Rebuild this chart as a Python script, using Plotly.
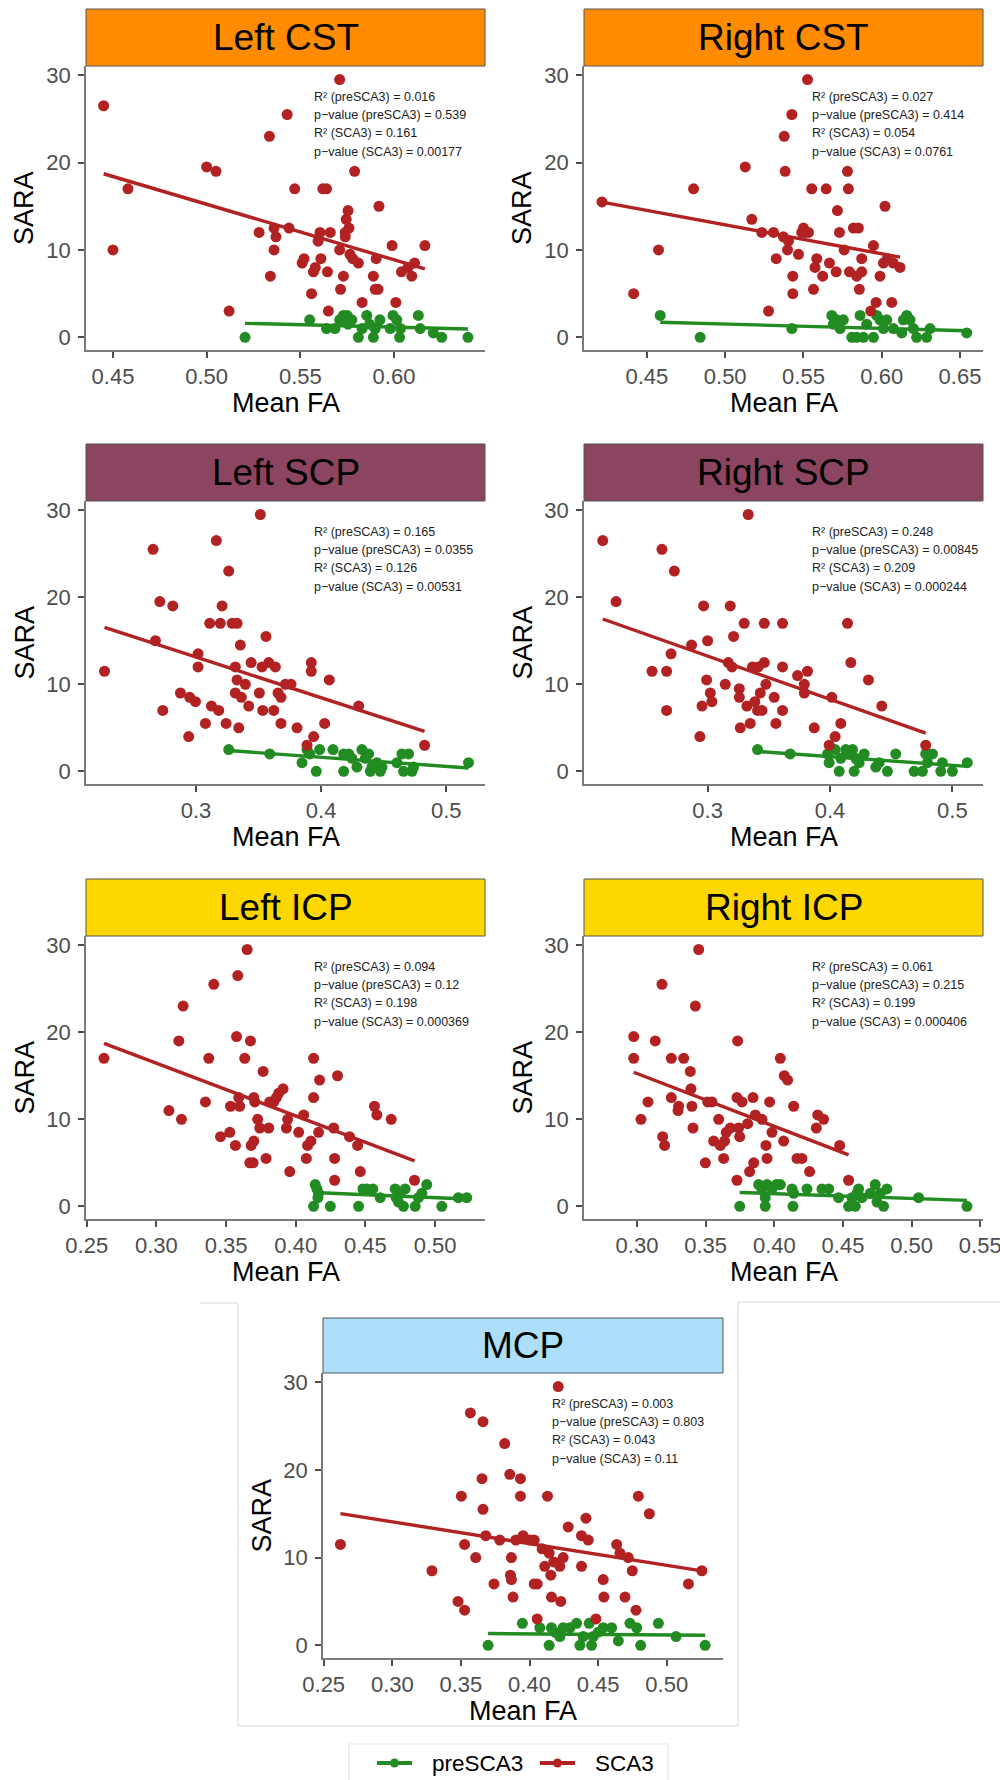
import plotly.graph_objects as go

W, H = 1000, 1780

# ---------------- data ----------------
panel_names = ["Left CST", "Right CST", "Left SCP", "Right SCP", "Left ICP", "Right ICP", "MCP"]
strip_colors = ["#FF8C00", "#FF8C00", "#8B4560", "#8B4560", "#FFD700", "#FFD700", "#ADDFFA"]

# Left CST
lcst_sca3_x = [0.445, 0.450, 0.458, 0.500, 0.505, 0.512, 0.528, 0.5335, 0.534, 0.536, 0.537, 0.536, 0.543, 0.544,
               0.547, 0.551, 0.552, 0.557, 0.556, 0.558, 0.5595, 0.5605, 0.561, 0.562, 0.564, 0.5645, 0.565, 0.566,
               0.571, 0.571, 0.5715, 0.573, 0.574, 0.574, 0.5745, 0.5755, 0.576, 0.5765, 0.578, 0.579, 0.581, 0.583,
               0.589, 0.590, 0.5905, 0.5915, 0.592, 0.599, 0.601, 0.604, 0.6075, 0.6095, 0.611, 0.6165]
lcst_sca3_y = [26.5, 10.0, 17.0, 19.5, 19.0, 3.0, 12.0, 23.0, 7.0, 12.5, 11.5, 10.0, 25.5, 12.5,
               17.0, 8.5, 9.0, 7.5, 5.0, 8.0, 11.0, 12.0, 9.0, 17.0, 17.0, 7.5, 3.0, 12.0,
               29.5, 10.0, 5.5, 7.0, 12.0, 11.5, 13.5, 14.5, 12.5, 9.5, 9.0, 19.0, 8.5, 4.0,
               7.0, 5.5, 9.0, 5.5, 15.0, 10.5, 4.0, 7.5, 8.0, 7.0, 8.5, 10.5]
lcst_pre_x = [0.5205, 0.555, 0.564, 0.5685, 0.571, 0.573, 0.575, 0.5755, 0.5775, 0.581, 0.583, 0.5855, 0.587,
              0.589, 0.590, 0.5925, 0.598, 0.5995, 0.6015, 0.603, 0.6035, 0.613, 0.614, 0.621, 0.6255, 0.6395]
lcst_pre_y = [0.0, 2.0, 1.0, 1.0, 2.0, 2.5, 2.5, 1.5, 2.0, 0.0, 1.0, 2.5, 1.5,
              0.0, 1.0, 2.0, 1.0, 2.5, 2.0, 0.0, 1.0, 2.5, 1.0, 0.5, 0.0, 0.0]

# Right CST
rcst_sca3_x = [0.4213, 0.4415, 0.4574, 0.4798, 0.5128, 0.517, 0.5234, 0.5277, 0.5309, 0.5326, 0.5377, 0.5383,
               0.5372, 0.5398, 0.5404, 0.5426, 0.5432, 0.5432, 0.5468, 0.5489, 0.55, 0.551, 0.5526, 0.5532,
               0.5553, 0.5564, 0.5574, 0.5585, 0.5623, 0.5645, 0.5666, 0.5709, 0.5717, 0.573, 0.576, 0.5781,
               0.5787, 0.5794, 0.5819, 0.584, 0.5851, 0.5857, 0.5872, 0.5872, 0.593, 0.5947, 0.5964, 0.5989,
               0.6011, 0.6021, 0.6036, 0.6064, 0.6074, 0.6117]
rcst_sca3_y = [15.5, 5.0, 10.0, 17.0, 19.5, 13.5, 12.0, 3.0, 12.0, 9.0, 23.0, 19.0,
               11.5, 10.0, 11.0, 25.5, 7.0, 5.0, 9.5, 12.0, 12.5, 12.0, 29.5, 12.0,
               17.0, 5.5, 8.0, 9.0, 7.0, 17.0, 8.5, 7.5, 14.5, 12.0, 10.0, 19.0,
               17.0, 7.5, 12.5, 7.0, 12.5, 5.5, 7.5, 9.0, 3.0, 10.5, 4.0, 7.0,
               8.5, 15.0, 9.0, 4.0, 8.5, 8.0]
rcst_pre_x = [0.4585, 0.484, 0.5426, 0.5681, 0.5691, 0.5713, 0.5734, 0.5755, 0.5809, 0.584, 0.5862, 0.5883,
              0.5904, 0.5947, 0.5968, 0.5989, 0.6011, 0.6032, 0.6074, 0.6128, 0.6138, 0.616, 0.6181, 0.6202,
              0.6223, 0.6287, 0.6309, 0.6543]
rcst_pre_y = [2.5, 0.0, 1.0, 2.5, 1.5, 2.0, 1.0, 2.0, 0.0, 0.0, 2.5, 0.0,
              1.5, 0.0, 2.5, 2.0, 1.0, 2.0, 1.0, 0.5, 2.0, 2.5, 2.0, 1.0,
              0.0, 0.0, 1.0, 0.5]

# Left SCP
lscp_sca3_x = [0.2268, 0.2656, 0.2675, 0.271, 0.2734, 0.2814, 0.2875, 0.2941, 0.2949, 0.2995, 0.3016, 0.3016,
               0.3075, 0.3109, 0.3123, 0.3162, 0.3181, 0.3194, 0.3208, 0.324, 0.3261, 0.3288, 0.3314, 0.3328,
               0.3314, 0.3328, 0.3341, 0.3354, 0.3362, 0.3394, 0.3421, 0.344, 0.3514, 0.3506, 0.3527, 0.3533,
               0.3559, 0.3581, 0.3621, 0.3634, 0.3655, 0.3679, 0.3679, 0.3714, 0.3759, 0.3807, 0.3887, 0.3921,
               0.3921, 0.394, 0.4028, 0.4065, 0.43, 0.4827]
lscp_sca3_y = [11.5, 25.5, 15.0, 19.5, 7.0, 19.0, 9.0, 4.0, 8.5, 8.0, 13.5, 12.0,
               5.5, 17.0, 7.5, 26.5, 7.0, 17.0, 19.0, 5.5, 23.0, 17.0, 12.0, 17.0,
               9.0, 10.5, 5.0, 14.5, 8.5, 10.0, 7.5, 12.5, 29.5, 9.0, 12.0, 7.0,
               15.5, 12.5, 7.0, 12.0, 9.0, 5.5, 8.5, 10.0, 10.0, 5.0, 3.0, 12.5,
               11.5, 4.0, 5.5, 10.5, 7.5, 3.0]
lscp_pre_x = [0.3261, 0.3589, 0.3847, 0.3887, 0.3908, 0.3961, 0.3988, 0.4095, 0.418, 0.418, 0.422, 0.4246,
              0.4286, 0.4326, 0.4353, 0.4379, 0.4393, 0.4406, 0.4446, 0.4473, 0.4486, 0.4606, 0.4646, 0.4659,
              0.4699, 0.4726, 0.4739, 0.5178]
lscp_pre_y = [2.5, 2.0, 1.0, 2.5, 2.0, 0.0, 2.5, 2.5, 0.0, 2.0, 2.0, 1.5,
              0.5, 2.5, 1.5, 2.0, 0.0, 0.5, 1.0, 0.0, 0.5, 1.0, 2.0, 0.0,
              2.0, 0.0, 0.5, 1.0]

# Right SCP
rscp_sca3_x = [0.2143, 0.2252, 0.2546, 0.2627, 0.2665, 0.2665, 0.2701, 0.2728, 0.2869, 0.2937, 0.2954, 0.2967,
               0.2992, 0.3, 0.3022, 0.3035, 0.3144, 0.3169, 0.3185, 0.3199, 0.3212, 0.3259, 0.3259, 0.3267,
               0.3299, 0.3321, 0.3332, 0.3348, 0.3367, 0.3386, 0.3408, 0.3414, 0.343, 0.3444, 0.3463, 0.3463,
               0.3476, 0.3544, 0.3558, 0.3612, 0.3612, 0.3612, 0.3735, 0.379, 0.379, 0.3816, 0.3871, 0.3993,
               0.4015, 0.4042, 0.4088, 0.4143, 0.417, 0.4314, 0.4423, 0.4782]
rscp_sca3_y = [26.5, 19.5, 11.5, 25.5, 11.5, 7.0, 13.5, 23.0, 14.5, 4.0, 7.5, 19.0,
               10.5, 15.0, 9.0, 8.0, 10.0, 12.5, 19.0, 12.0, 15.5, 9.5, 8.5, 5.0,
               17.0, 7.5, 29.5, 5.5, 12.0, 8.0, 7.0, 12.0, 9.0, 7.0, 17.0, 12.5,
               10.0, 8.5, 5.5, 17.0, 12.0, 7.0, 11.0, 10.0, 9.0, 11.5, 5.0, 3.0,
               8.5, 4.0, 5.5, 17.0, 12.5, 10.5, 7.5, 3.0]
rscp_pre_x = [0.3408, 0.3675, 0.398, 0.3993, 0.4042, 0.4075, 0.4088, 0.4129, 0.4156, 0.4184, 0.4197, 0.421,
              0.4238, 0.4279, 0.4374, 0.4401, 0.4469, 0.4537, 0.4687, 0.4755, 0.4782, 0.4796, 0.4837, 0.4905,
              0.4918, 0.5, 0.5122]
rscp_pre_y = [2.5, 2.0, 2.0, 1.0, 2.5, 0.0, 1.5, 2.5, 2.0, 2.5, 0.0, 1.5,
              1.0, 2.0, 0.5, 1.0, 0.0, 2.0, 0.0, 0.0, 2.0, 1.0, 2.0, 0.0,
              1.0, 0.0, 1.0]

# Left ICP
licp_sca3_x = [0.2624, 0.309, 0.318, 0.3161, 0.3192, 0.3352, 0.3376, 0.3412, 0.346, 0.3527, 0.3532, 0.3567,
               0.3575, 0.3584, 0.3591, 0.3598, 0.3634, 0.3651, 0.367, 0.3675, 0.368, 0.3694, 0.3699, 0.3699,
               0.3706, 0.3727, 0.3742, 0.3766, 0.3787, 0.3806, 0.3813, 0.3842, 0.3861, 0.3878, 0.3909, 0.3933,
               0.3942, 0.3957, 0.4021, 0.4057, 0.4076, 0.4085, 0.4109, 0.4128, 0.4128, 0.4164, 0.4171, 0.4272,
               0.4279, 0.4279, 0.43, 0.4386, 0.4444, 0.4463, 0.4565, 0.4582, 0.4685, 0.4852]
licp_sca3_y = [17.0, 11.0, 10.0, 19.0, 23.0, 12.0, 17.0, 25.5, 8.0, 8.5, 11.5, 7.0,
               19.5, 26.5, 12.5, 11.5, 17.0, 29.5, 5.0, 19.0, 7.0, 5.0, 7.5, 12.5,
               12.0, 10.0, 9.0, 15.5, 5.5, 9.0, 12.0, 12.0, 12.5, 13.0, 13.5, 9.0,
               10.0, 4.0, 8.5, 10.5, 5.5, 7.0, 7.5, 17.0, 12.5, 8.5, 14.5, 9.0,
               5.5, 3.0, 15.0, 8.0, 7.0, 4.0, 11.5, 10.5, 10.0, 3.0]
licp_pre_x = [0.4128, 0.414, 0.4152, 0.4159, 0.4164, 0.4248, 0.4451, 0.4482, 0.451, 0.4553, 0.4606, 0.4713,
              0.4721, 0.4737, 0.4749, 0.4773, 0.4785, 0.4857, 0.4881, 0.4905, 0.494, 0.5048, 0.5167, 0.5227]
licp_pre_y = [0.0, 2.5, 2.0, 1.0, 1.5, 0.0, 0.0, 2.0, 2.0, 2.0, 1.0, 2.0,
              1.0, 0.5, 1.5, 0.0, 2.0, 0.0, 1.0, 1.5, 2.5, 0.0, 1.0, 1.0]

# Right ICP
ricp_sca3_x = [0.2976, 0.2976, 0.3029, 0.308, 0.3133, 0.3187, 0.3201, 0.3182, 0.325, 0.325, 0.3303, 0.3299,
               0.334, 0.3388, 0.3393, 0.34, 0.3408, 0.3425, 0.3449, 0.3498, 0.3515, 0.3546, 0.3558, 0.3595,
               0.3607, 0.3631, 0.3638, 0.365, 0.368, 0.3728, 0.3728, 0.3733, 0.374, 0.3748, 0.3765, 0.3806,
               0.382, 0.3845, 0.385, 0.3862, 0.391, 0.3939, 0.3947, 0.3966, 0.3983, 0.4044, 0.4068, 0.4073,
               0.4097, 0.4141, 0.4165, 0.4201, 0.4257, 0.4306, 0.4316, 0.4359, 0.4476, 0.4541]
ricp_sca3_y = [19.5, 17.0, 10.0, 12.0, 19.0, 8.0, 7.0, 25.5, 17.0, 12.5, 11.5, 11.0,
               17.0, 15.5, 13.5, 11.5, 9.0, 23.0, 29.5, 5.0, 12.0, 12.0, 7.5, 10.0,
               7.0, 5.5, 7.5, 8.5, 9.0, 3.0, 12.5, 19.0, 9.0, 8.0, 12.0, 9.5,
               4.0, 12.5, 5.0, 10.5, 10.0, 7.0, 5.5, 12.0, 8.5, 17.0, 7.5, 15.0,
               14.5, 11.5, 5.5, 5.5, 4.0, 9.0, 10.5, 10.0, 7.0, 3.0]
ricp_pre_x = [0.3748, 0.3886, 0.391, 0.3934, 0.3934, 0.3947, 0.3983, 0.4015, 0.4044, 0.4129, 0.4136, 0.4141,
              0.4238, 0.4347, 0.4396, 0.4468, 0.4541, 0.4566, 0.459, 0.4602, 0.4614, 0.4638, 0.4699, 0.4735,
              0.4748, 0.4772, 0.4796, 0.482, 0.5051, 0.5403]
ricp_pre_y = [0.0, 2.5, 2.0, 0.0, 1.0, 2.5, 2.0, 2.5, 2.5, 2.0, 0.0, 1.5,
              2.0, 2.0, 2.0, 1.0, 0.0, 1.0, 0.0, 1.5, 2.0, 1.0, 1.5, 2.5,
              0.5, 1.5, 0.0, 2.0, 1.0, 0.0]

# MCP
mcp_sca3_x = [0.2622, 0.3289, 0.3479, 0.3503, 0.3527, 0.3527, 0.3569, 0.3608, 0.3654, 0.3661, 0.3661, 0.3681,
              0.3741, 0.3783, 0.3819, 0.3856, 0.3868, 0.3861, 0.3868, 0.388, 0.39, 0.3934, 0.3934, 0.3953,
              0.4002, 0.4034, 0.4034, 0.4056, 0.4056, 0.4092, 0.4111, 0.4131, 0.4143, 0.4155, 0.416, 0.4177,
              0.4209, 0.4221, 0.4228, 0.4245, 0.4282, 0.4379, 0.4379, 0.4411, 0.4428, 0.4484, 0.4537, 0.4542,
              0.4635, 0.4659, 0.4696, 0.472, 0.4749, 0.4776, 0.4793, 0.4873, 0.5158, 0.5256]
mcp_sca3_y = [11.5, 8.5, 5.0, 17.0, 4.0, 11.5, 26.5, 10.0, 19.0, 15.5, 25.5, 12.5,
              7.0, 12.0, 23.0, 19.5, 10.0, 8.0, 7.5, 5.5, 12.0, 19.0, 17.0, 12.5,
              12.0, 12.0, 7.0, 7.0, 3.0, 11.0, 9.0, 17.0, 10.5, 8.0, 5.5, 9.5,
              29.5, 9.0, 5.0, 10.0, 13.5, 9.0, 12.5, 14.5, 12.0, 3.0, 7.5, 5.5,
              11.5, 10.5, 5.5, 10.0, 8.5, 4.0, 17.0, 15.0, 7.0, 8.5]
mcp_pre_x = [0.3698, 0.3948, 0.4075, 0.4143, 0.416, 0.4185, 0.4221, 0.4245, 0.4294, 0.4343, 0.4367, 0.4391,
             0.4435, 0.4452, 0.4464, 0.4501, 0.4537, 0.4598, 0.4647, 0.4732, 0.4781, 0.481, 0.4939, 0.5068, 0.528]
mcp_pre_y = [0.0, 2.5, 2.0, 0.0, 2.0, 1.5, 1.0, 2.0, 2.0, 2.5, 0.0, 1.0,
             2.5, 0.0, 1.0, 1.5, 2.0, 2.0, 0.5, 2.5, 2.0, 0.0, 2.5, 1.0, 0.0]

# fitted regression lines (end points): [x0, x1], [y0, y1]
fit_sca3_x = [[0.445, 0.6165], [0.4213, 0.6117], [0.2268, 0.4827], [0.2143, 0.4782],
              [0.2624, 0.4852], [0.2976, 0.4541], [0.2622, 0.5256]]
fit_sca3_y = [[18.72, 7.83], [15.48, 9.17], [16.55, 4.59], [17.5, 4.39],
              [18.72, 5.23], [15.4, 5.92], [15.02, 8.48]]
fit_pre_x = [[0.5205, 0.6395], [0.4585, 0.6543], [0.3261, 0.5178], [0.3408, 0.5122],
             [0.4128, 0.5227], [0.3748, 0.5403], [0.3698, 0.528]]
fit_pre_y = [[1.6, 0.96], [1.72, 0.76], [2.4, 0.38], [2.29, 0.57],
             [1.6, 0.84], [1.6, 0.69], [1.34, 1.15]]

r2_pre = ["0.016", "0.027", "0.165", "0.248", "0.094", "0.061", "0.003"]
p_pre = ["0.539", "0.414", "0.0355", "0.00845", "0.12", "0.215", "0.803"]
r2_sca3 = ["0.161", "0.054", "0.126", "0.209", "0.198", "0.199", "0.043"]
p_sca3 = ["0.00177", "0.0761", "0.00531", "0.000244", "0.000369", "0.000406", "0.11"]

x_ranges = [[0.4356, 0.6486], [0.4098, 0.6647], [0.212, 0.531], [0.199, 0.525],
            [0.2495, 0.5358], [0.2614, 0.552], [0.2495, 0.541]]
x_ticks = [[0.45, 0.50, 0.55, 0.60], [0.45, 0.50, 0.55, 0.60, 0.65], [0.3, 0.4, 0.5], [0.3, 0.4, 0.5],
           [0.25, 0.30, 0.35, 0.40, 0.45, 0.50], [0.30, 0.35, 0.40, 0.45, 0.50, 0.55],
           [0.25, 0.30, 0.35, 0.40, 0.45, 0.50]]
x_formats = [".2f", ".2f", ".1f", ".1f", ".2f", ".2f", ".2f"]
y_ticks = [0, 10, 20, 30]
groups = ["preSCA3", "SCA3"]

sca3_x = [lcst_sca3_x, rcst_sca3_x, lscp_sca3_x, rscp_sca3_x, licp_sca3_x, ricp_sca3_x, mcp_sca3_x]
sca3_y = [lcst_sca3_y, rcst_sca3_y, lscp_sca3_y, rscp_sca3_y, licp_sca3_y, ricp_sca3_y, mcp_sca3_y]
pre_x = [lcst_pre_x, rcst_pre_x, lscp_pre_x, rscp_pre_x, licp_pre_x, ricp_pre_x, mcp_pre_x]
pre_y = [lcst_pre_y, rcst_pre_y, lscp_pre_y, rscp_pre_y, licp_pre_y, ricp_pre_y, mcp_pre_y]
for a, b in zip(sca3_x + pre_x, sca3_y + pre_y):
    assert len(a) == len(b), (len(a), len(b))

# ---------------- layout geometry (pixels) ----------------
boxes = [(86, 485, 66, 350), (584, 983, 66, 350),
         (86, 485, 501, 784), (584, 983, 501, 784),
         (86, 485, 936, 1219), (584, 983, 936, 1219),
         (323, 723, 1373, 1658)]
strips = [(9, 66), (9, 66), (444, 501), (444, 501), (879, 936), (879, 936), (1318, 1373)]

GREEN = "#228B22"
RED = "#B22222"
AXC = "#7a7a7a"
TICKC = "#4d4d4d"
FONT = "Liberation Sans, Arial, Helvetica, sans-serif"
YR = [-1.45, 31.05]
colors = [GREEN, RED]


def px(x):
    return x / W


def py(y):
    return 1 - y / H


fig = go.Figure()
layout = dict(width=W, height=H, margin=dict(l=0, r=0, t=0, b=0, pad=0), autosize=False,
              paper_bgcolor="white", plot_bgcolor="white", hovermode=False, showlegend=False,
              font=dict(family=FONT, color="#000000"))
shapes = []
annotations = []

for i in range(7):
    s = "" if i == 0 else str(i + 1)
    xa, ya = "x" + s, "y" + s
    L, R, T, B = boxes[i]
    fig.add_trace(go.Scatter(x=pre_x[i], y=pre_y[i], mode="markers", xaxis=xa, yaxis=ya, name=groups[0],
                             marker=dict(color=GREEN, size=11), cliponaxis=False))
    fig.add_trace(go.Scatter(x=sca3_x[i], y=sca3_y[i], mode="markers", xaxis=xa, yaxis=ya, name=groups[1],
                             marker=dict(color=RED, size=11), cliponaxis=False))
    fig.add_trace(go.Scatter(x=fit_pre_x[i], y=fit_pre_y[i], mode="lines", xaxis=xa, yaxis=ya, name=groups[0],
                             line=dict(color=GREEN, width=3.4)))
    fig.add_trace(go.Scatter(x=fit_sca3_x[i], y=fit_sca3_y[i], mode="lines", xaxis=xa, yaxis=ya, name=groups[1],
                             line=dict(color=RED, width=3.4)))

    common = dict(showline=True, linecolor=AXC, linewidth=1.6, ticks="outside", ticklen=6, tickwidth=1.6,
                  tickcolor=TICKC, showgrid=False, zeroline=False, automargin=False,
                  ticklabeloverflow="allow", tickfont=dict(family=FONT, size=22, color=TICKC))
    layout["xaxis" + s] = dict(domain=[px(L), px(R)], range=x_ranges[i], anchor=ya,
                               tickmode="array", tickvals=x_ticks[i], tickformat=x_formats[i],
                               ticklabelstandoff=0, **common)
    layout["yaxis" + s] = dict(domain=[py(B), py(T)], range=YR, anchor=xa,
                               tickmode="array", tickvals=y_ticks, ticklabelstandoff=3, **common)
    # facet strip
    st, sb = strips[i]
    shapes.append(dict(type="rect", xref="paper", yref="paper", x0=px(L), x1=px(R), y0=py(sb), y1=py(st),
                       fillcolor=strip_colors[i], line=dict(color="#555555", width=1), layer="above"))
    annotations.append(dict(xref="paper", yref="paper", x=px((L + R) / 2), y=py((st + sb) / 2),
                            text=panel_names[i], showarrow=False, xanchor="center", yanchor="middle",
                            font=dict(family=FONT, size=37, color="#000000")))
    # axis titles
    annotations.append(dict(xref="paper", yref="paper", x=px((L + R) / 2), y=py(B + 53),
                            text="Mean FA", showarrow=False, xanchor="center", yanchor="middle",
                            font=dict(family=FONT, size=27, color="#000000")))
    annotations.append(dict(xref="paper", yref="paper", x=px(L - 62), y=py((T + B) / 2),
                            text="SARA", showarrow=False, xanchor="center", yanchor="middle",
                            textangle=-90, font=dict(family=FONT, size=27, color="#000000")))
    # statistics text
    lines = ["R\u00b2 (preSCA3) = " + r2_pre[i],
             "p\u2212value (preSCA3) = " + p_pre[i],
             "R\u00b2 (SCA3) = " + r2_sca3[i],
             "p\u2212value (SCA3) = " + p_sca3[i]]
    hgt = B - T
    for k, t in enumerate(lines):
        off = 30.7 + 18.35 * k
        annotations.append(dict(xref=xa + " domain", yref=ya + " domain", x=0.567, y=1 - off / hgt,
                                text=t, showarrow=False, xanchor="left", yanchor="middle",
                                font=dict(family=FONT, size=12.5, color="#222222")))

# legend (drawn as a keyed box under the last panel)
LEG_Y = 1763
shapes.append(dict(type="rect", xref="paper", yref="paper", x0=px(349), x1=px(668), y0=py(1800), y1=py(1744),
                   fillcolor="white", line=dict(color="#e6e6e6", width=1.2)))
for g, (k0, k1, tx) in enumerate([(377, 412, 430), (540, 575, 593)]):
    shapes.append(dict(type="line", xref="paper", yref="paper", x0=px(k0), x1=px(k1), y0=py(LEG_Y), y1=py(LEG_Y),
                       line=dict(color=colors[g], width=4)))
    cx = (k0 + k1) / 2
    shapes.append(dict(type="circle", xref="paper", yref="paper", x0=px(cx - 4.5), x1=px(cx + 4.5),
                       y0=py(LEG_Y + 4.5), y1=py(LEG_Y - 4.5), fillcolor=colors[g],
                       line=dict(color=colors[g], width=0)))
    annotations.append(dict(xref="paper", yref="paper", x=px(tx), y=py(LEG_Y), text=groups[g],
                            showarrow=False, xanchor="left", yanchor="middle",
                            font=dict(family=FONT, size=22.5, color="#000000")))

# faint frame lines of the composed picture
FR = "#e6e6e6"
for (x0, y0, x1, y1) in [(200, 1303, 238, 1303), (738, 1302, 1000, 1302), (238, 1303, 238, 1726),
                         (738, 1302, 738, 1726), (238, 1726, 738, 1726)]:
    shapes.append(dict(type="line", xref="paper", yref="paper", x0=px(x0), y0=py(y0), x1=px(x1), y1=py(y1),
                       line=dict(color=FR, width=1.5)))

layout["shapes"] = shapes
layout["annotations"] = annotations
fig.update_layout(**layout)
fig.write_html("out.html")
